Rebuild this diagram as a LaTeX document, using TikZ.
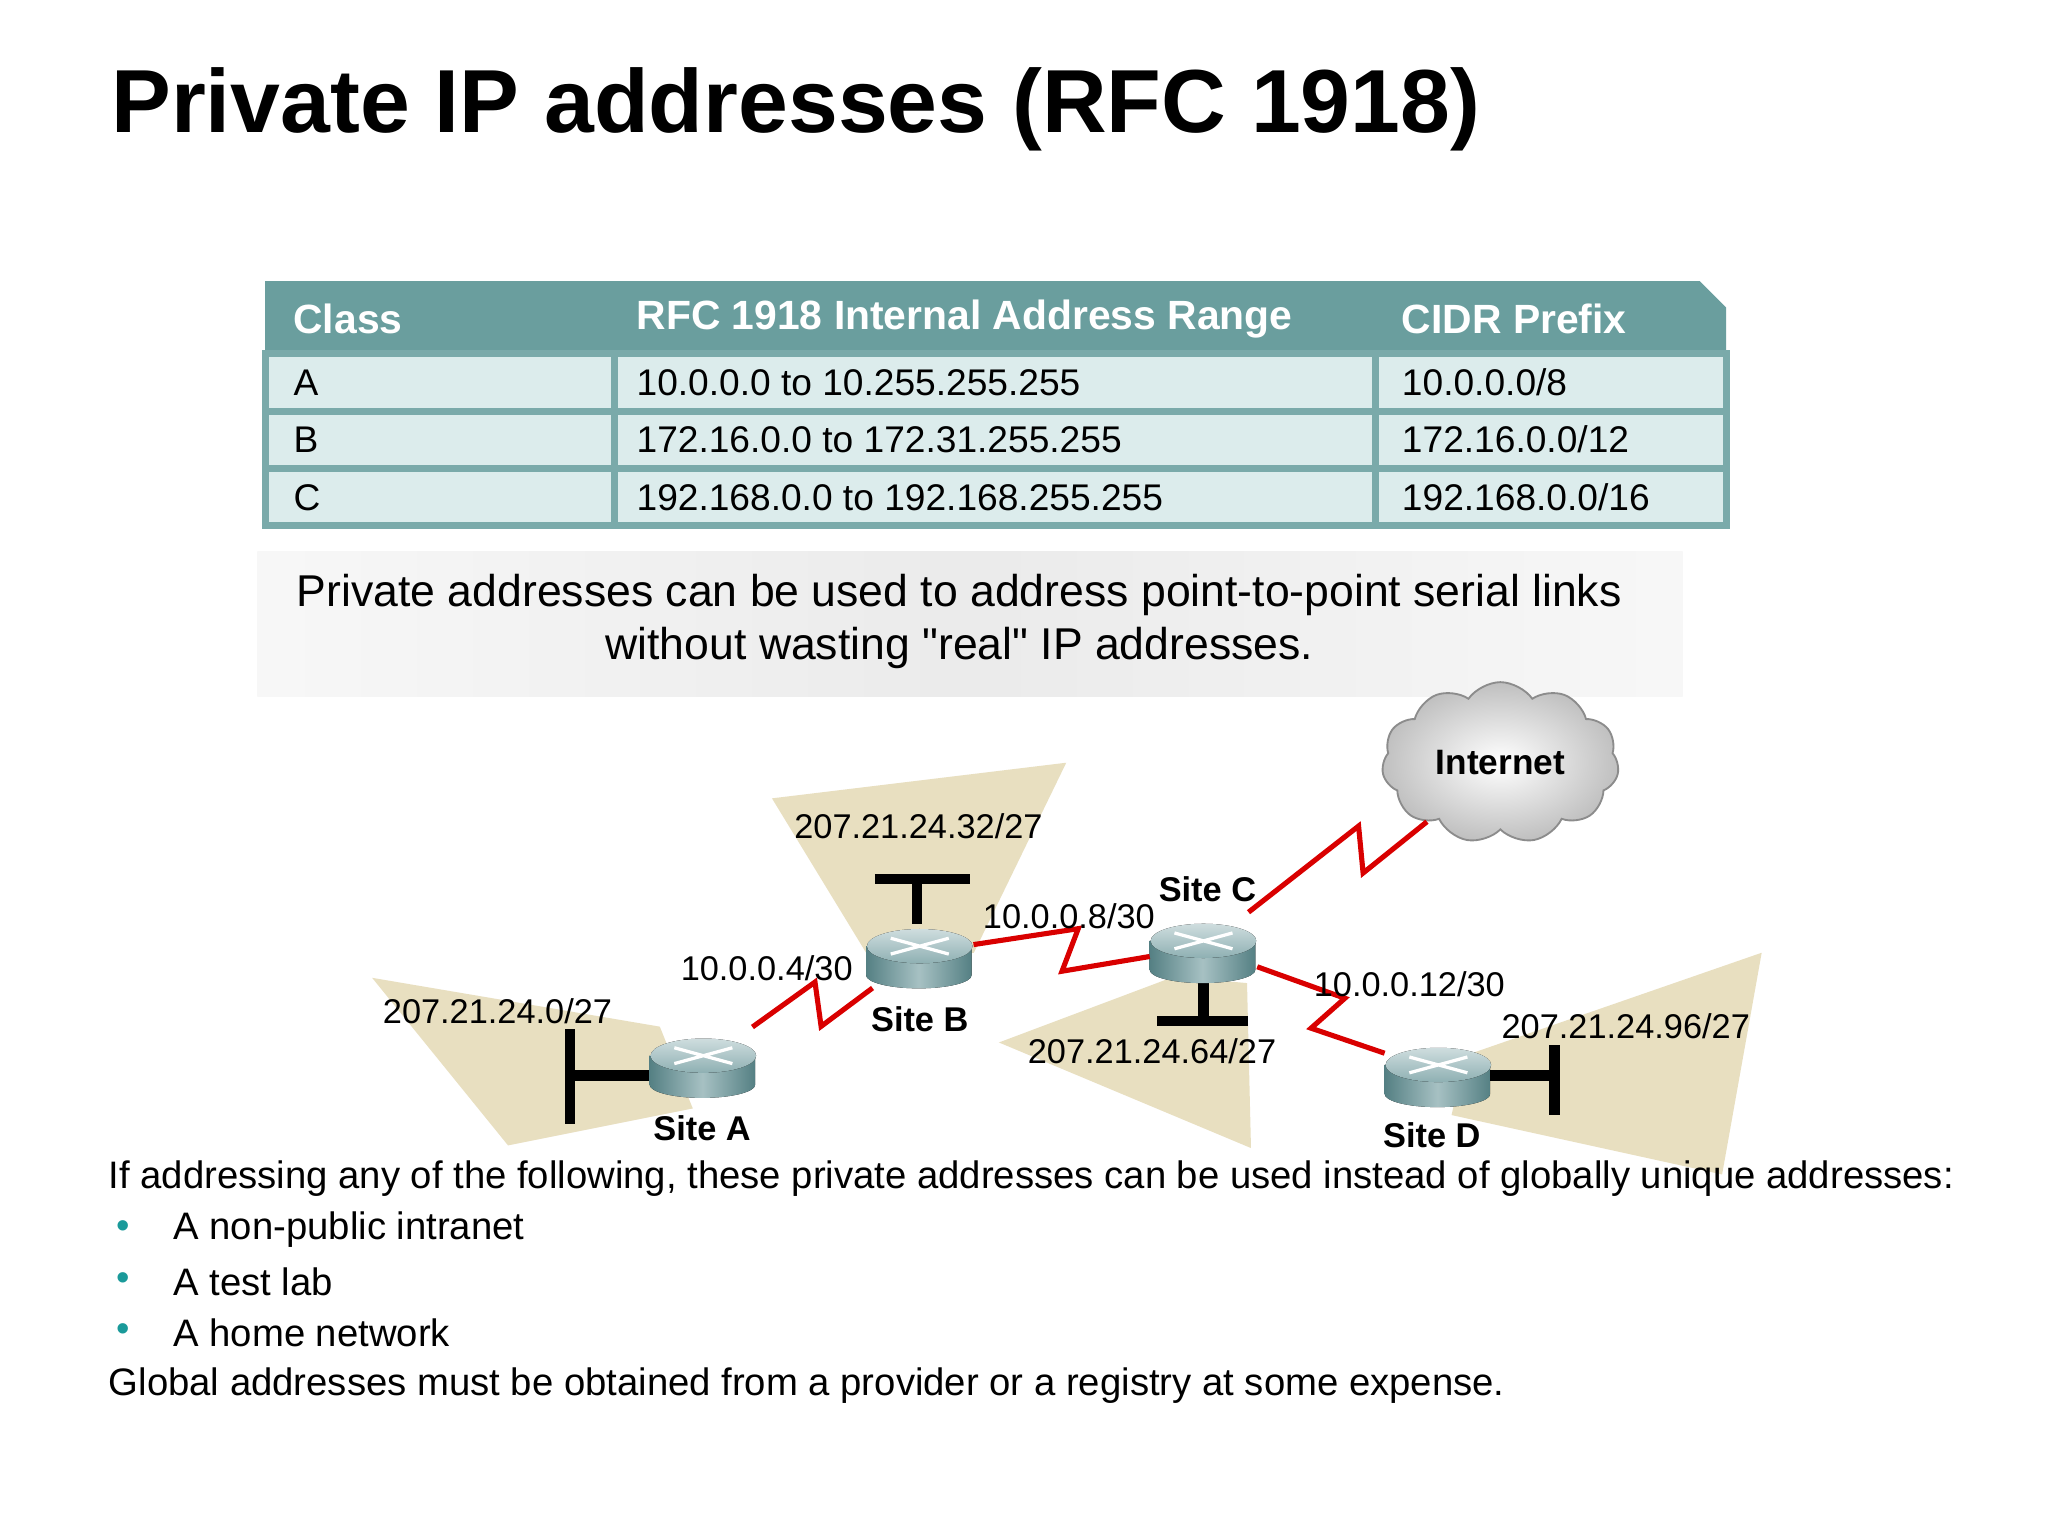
\documentclass[tikz,border=0pt]{standalone}
\usepackage{fontspec}
\setmainfont{Liberation Sans}
\newfontfamily\notefont{Liberation Sans}
\usetikzlibrary{calc,shapes.symbols}
\definecolor{teal_head}{HTML}{6A9E9E}
\definecolor{teal_row}{HTML}{DCECEC}
\definecolor{teal_line}{HTML}{7AAAAA}
\definecolor{wedge_tan}{HTML}{E8DFC0}
\definecolor{bullet_teal}{HTML}{1A9A9A}
\definecolor{router_body}{HTML}{5E8E92}
% router: name, position
\newcommand{\siterouter}[2]{%
  \node[minimum width=0.8cm, minimum height=0.52cm, inner sep=0pt] (#1) at (#2) {};
  \fill[left color=router_body!90!black, right color=router_body!90!black, middle color=router_body!55]
    (#1.west) ++(0,-5) -- ++(0,22) arc[start angle=180, end angle=360, x radius=40, y radius=-10] -- ++(0,-22) -- cycle;
  \fill[top color=router_body!30, bottom color=router_body!70] ($(#1.center)+(0,-5)$) ellipse[x radius=40, y radius=-13];
  \draw[white, line width=0.7pt] ($(#1.center)+(-22,-11)$) -- ($(#1.center)+(22,1)$)
    ($(#1.center)+(-22,1)$) -- ($(#1.center)+(22,-11)$);
}
\begin{document}
\begin{tikzpicture}[x=0.01cm,y=-0.01cm,
    head_text/.style ={anchor=west, text=white, font=\bfseries\fontsize{8.8}{11}\selectfont},
    cell_text/.style ={anchor=west, font=\fontsize{8}{10}\selectfont},
    net_label/.style ={font=\fontsize{7.4}{9}\selectfont},
    site_label/.style ={font=\bfseries\fontsize{7.4}{9}\selectfont},
    wedge/.style ={fill=wedge_tan, draw=none},
    ether/.style ={line width=2.2pt, black},
    serial/.style ={draw=red!85!black, line width=1.1pt},
    body_text/.style ={anchor=west, font=\fontsize{8.25}{10}\selectfont},
    bullet/.style ={anchor=west, text=bullet_teal, font=\fontsize{8.25}{10}\selectfont}]
  \useasboundingbox[fill=white] (0,0) rectangle (1552,1164);
  % title
  \node[anchor=west, font=\bfseries\fontsize{19.3}{22}\selectfont] (title) at (72,83) {Private IP addresses (RFC 1918)};
  % table
  \fill[teal_head] (201,213) -- (1288,213) -- (1308,233) -- (1308,268) -- (201,268) -- cycle;
  \fill[teal_row] (201,268) rectangle (1308,398);
  \draw[teal_line, line width=1.5pt] (201,268) rectangle (1308,398);
  \foreach \yy in {312,355} \draw[teal_line, line width=1.5pt] (201,\yy) -- (1308,\yy);
  \foreach \xx in {466,1042} \draw[teal_line, line width=1.5pt] (\xx,268) -- (\xx,398);
  \node[head_text] (h1) at (210,242) {Class};
  \node[head_text] (h2) at (470,242) {RFC 1918 Internal Address Range};
  \node[head_text] (h3) at (1050,242) {CIDR Prefix};
  \node[cell_text] (a1) at (210,290) {A};
  \node[cell_text] (a2) at (470,290) {10.0.0.0 to 10.255.255.255};
  \node[cell_text] (a3) at (1050,290) {10.0.0.0/8};
  \node[cell_text] (b1) at (210,333) {B};
  \node[cell_text] (b2) at (470,333) {172.16.0.0 to 172.31.255.255};
  \node[cell_text] (b3) at (1050,333) {172.16.0.0/12};
  \node[cell_text] (c1) at (210,377) {C};
  \node[cell_text] (c2) at (470,377) {192.168.0.0 to 192.168.255.255};
  \node[cell_text] (c3) at (1050,377) {192.168.0.0/16};
  % note box
  \shade[left color=black!3, right color=black!3, middle color=black!8] (195,418) rectangle (1275,528);
  \node[align=center, font=\notefont\fontsize{9.6}{11.4}\selectfont] (note) at (727,471)
    {Private addresses can be used to address point-to-point serial links\\without wasting "real" IP addresses.};
  % LAN wedges
  \fill[wedge] (282,741) -- (500,778) -- (525,840) -- (385,868) -- cycle;
  \fill[wedge] (585,605) -- (808,578) -- (738,722) -- (660,728) -- cycle;
  \fill[wedge] (757,790) -- (890,740) -- (945,745) -- (948,870) -- cycle;
  \fill[wedge] (1335,722) -- (1305,890) -- (1100,845) -- (1110,800) -- cycle;
  % ethernet segments
  \draw[ether] (432,780) -- (432,852);
  \draw[ether] (432,815) -- (498,815);
  \draw[ether] (663,666) -- (735,666);
  \draw[ether] (695,666) -- (695,700);
  \draw[ether] (877,774) -- (946,774);
  \draw[ether] (912,745) -- (912,774);
  \draw[ether] (1178,792) -- (1178,845);
  \draw[ether] (1128,815) -- (1178,815);
  % routers
  \siterouter{siteA}{533,805}
  \siterouter{siteB}{697,722}
  \siterouter{siteC}{912,718}
  \siterouter{siteD}{1090,812}
  \node[cloud, cloud puffs=11, cloud puff arc=110, aspect=1.7, minimum width=1.6cm, minimum height=0.95cm,
        draw=black!45, inner color=white, outer color=black!25, font=\bfseries\fontsize{7.6}{9}\selectfont] (inet) at (1137,578) {Internet};
  % serial links
  \foreach \src/\dst in {siteA/siteB,siteB/siteC,siteC/siteD,siteC/inet}{
    \draw[serial] (\src) -- ($($(\src)!0.56!(\dst)$)!0.16cm!90:(\dst)$)
      -- ($($(\src)!0.5!(\dst)$)!0.16cm!-90:(\dst)$) -- (\dst);
  }
  % labels
  \node[net_label] (lanA) at (377,766) {207.21.24.0/27};
  \node[net_label] (lanB) at (696,626) {207.21.24.32/27};
  \node[net_label] (lanC) at (873,797) {207.21.24.64/27};
  \node[net_label] (lanD) at (1232,778) {207.21.24.96/27};
  \node[net_label] (wanAB) at (581,734) {10.0.0.4/30};
  \node[net_label] (wanBC) at (810,694) {10.0.0.8/30};
  \node[net_label] (wanCD) at (1068,746) {10.0.0.12/30};
  \node[site_label] (labA) at (532,855) {Site A};
  \node[site_label] (labB) at (697,772) {Site B};
  \node[site_label] (labC) at (915,674) {Site C};
  \node[site_label] (labD) at (1085,860) {Site D};
  % bottom text
  \node[body_text] (intro) at (70,893) {If addressing any of the following, these private addresses can be used instead of globally unique addresses:};
  \foreach \yy/\txt in {932/A non-public intranet,971/A test lab,1010/A home network}{
    \node[bullet] at (76,\yy) {•};
    \node[body_text] at (119,\yy) {\txt};
  }
  \node[body_text] (global) at (70,1050) {Global addresses must be obtained from a provider or a registry at some expense.};
\end{tikzpicture}
\end{document}
